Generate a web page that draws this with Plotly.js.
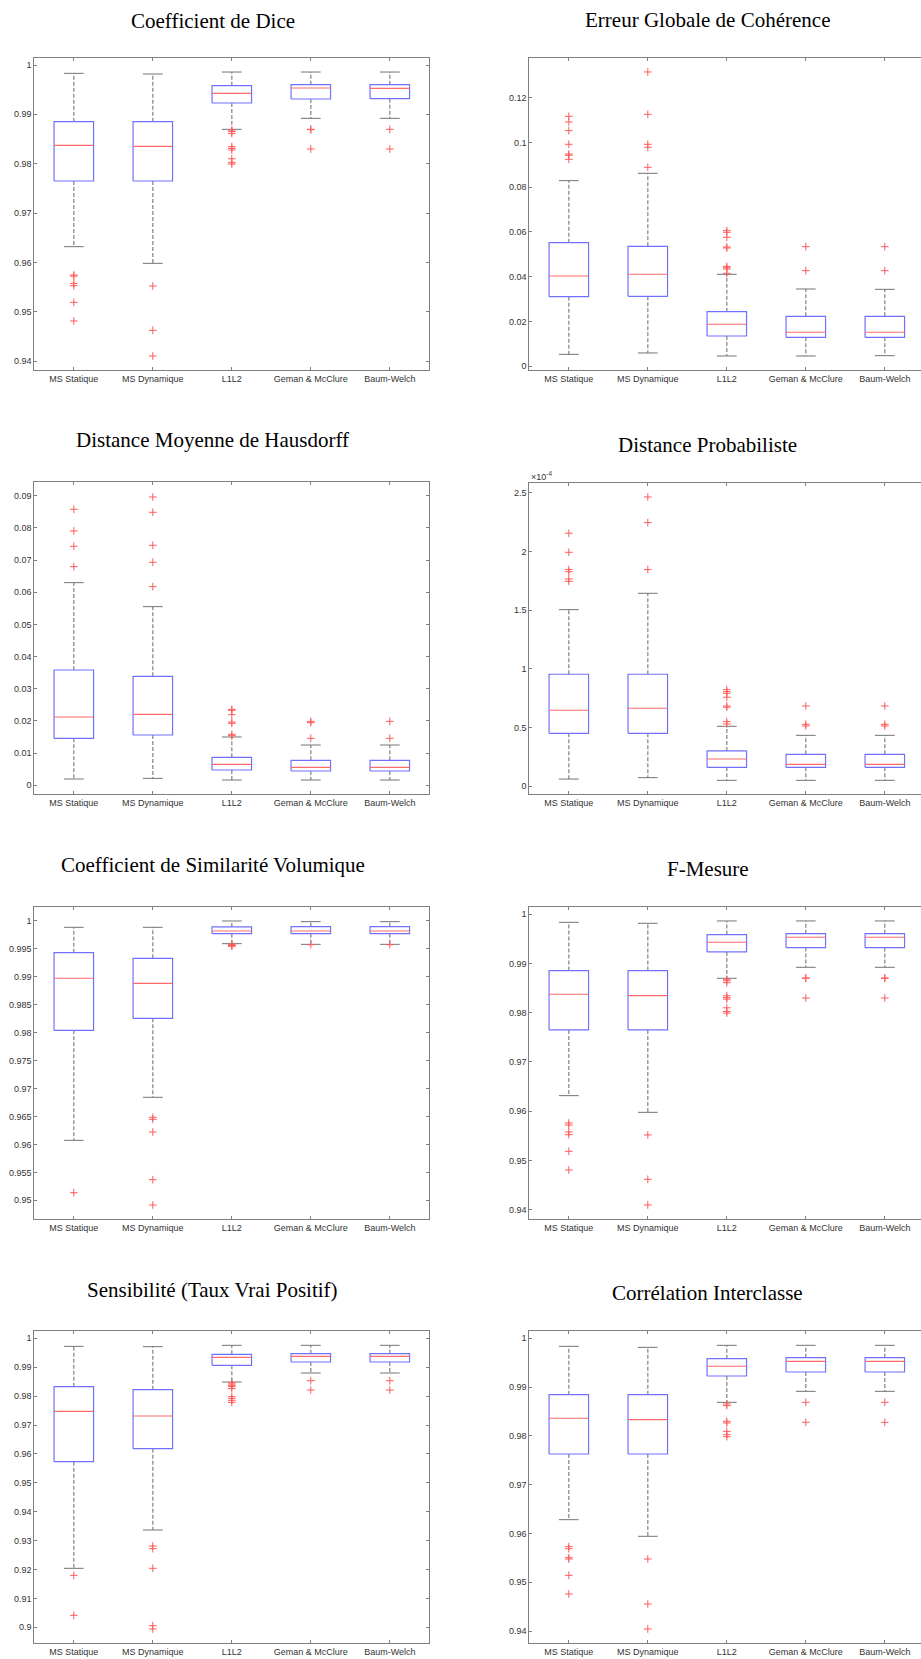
<!DOCTYPE html>
<html>
<head>
<meta charset="utf-8">
<script src="https://cdn.plot.ly/plotly-3.0.1.min.js"></script>
<style>
html,body{margin:0;padding:0;background:#fff;overflow:hidden;}
#chart{width:921px;height:1659px;}
</style>
</head>
<body>
<div id="chart"></div>
<script>
// ---------- DATA ----------
const categories = ['MS Statique', 'MS Dynamique', 'L1L2', 'Geman & McClure', 'Baum-Welch'];

// Coefficient de Dice
const diceUpper  = [0.99831, 0.99818, 0.99858, 0.99858, 0.99858];
const diceQ3     = [0.98851, 0.98851, 0.99581, 0.99601, 0.99601];
const diceMedian = [0.98372, 0.98351, 0.99426, 0.99534, 0.99527];
const diceQ1     = [0.97649, 0.97649, 0.99230, 0.99311, 0.99318];
const diceLower  = [0.96318, 0.95980, 0.98696, 0.98919, 0.98919];
const diceOutliers = [
  [0.95743, 0.95720, 0.95574, 0.95527, 0.95189, 0.94811],
  [0.95520, 0.94622, 0.94101],
  [0.98680, 0.98650, 0.98610, 0.98345, 0.98310, 0.98277, 0.98100, 0.98027, 0.97993],
  [0.98696, 0.98690, 0.98297],
  [0.98696, 0.98297]
];

// Erreur Globale de Cohérence
const egcUpper  = [0.08293, 0.08620, 0.04109, 0.03454, 0.03439];
const egcQ3     = [0.05524, 0.05360, 0.02442, 0.02233, 0.02233];
const egcMedian = [0.04035, 0.04109, 0.01876, 0.01519, 0.01519];
const egcQ1     = [0.03112, 0.03127, 0.01355, 0.01295, 0.01295];
const egcLower  = [0.00536, 0.00596, 0.00462, 0.00462, 0.00476];
const egcOutliers = [
  [0.11166, 0.10913, 0.10526, 0.09916, 0.09484, 0.09424, 0.09246],
  [0.13147, 0.11256, 0.09916, 0.09782, 0.08888],
  [0.06060, 0.05985, 0.05762, 0.05330, 0.05285, 0.04467, 0.04407, 0.04347, 0.04154],
  [0.05345, 0.04273],
  [0.05345, 0.04273]
];

// Distance Moyenne de Hausdorff
const hdUpper  = [0.06297, 0.05551, 0.01502, 0.01253, 0.01253];
const hdQ3     = [0.03583, 0.03387, 0.00870, 0.00777, 0.00777];
const hdMedian = [0.02123, 0.02206, 0.00652, 0.00559, 0.00559];
const hdQ1     = [0.01460, 0.01564, 0.00476, 0.00445, 0.00445];
const hdLower  = [0.00197, 0.00217, 0.00166, 0.00166, 0.00166];
const hdOutliers = [
  [0.08575, 0.07902, 0.07426, 0.06794],
  [0.08958, 0.08482, 0.07457, 0.06929, 0.06173],
  [0.02361, 0.02330, 0.02196, 0.01968, 0.01926, 0.01585, 0.01543],
  [0.01988, 0.01947, 0.01460],
  [0.01988, 0.01460]
];

// Distance Probabiliste (x 1e-4)
const dpUpper  = [1.504e-4, 1.643e-4, 0.511e-4, 0.434e-4, 0.434e-4];
const dpQ3     = [0.954e-4, 0.954e-4, 0.301e-4, 0.272e-4, 0.272e-4];
const dpMedian = [0.647e-4, 0.664e-4, 0.233e-4, 0.187e-4, 0.187e-4];
const dpQ1     = [0.451e-4, 0.451e-4, 0.162e-4, 0.162e-4, 0.162e-4];
const dpLower  = [0.062e-4, 0.074e-4, 0.051e-4, 0.051e-4, 0.051e-4];
const dpOutliers = [
  [2.154e-4, 1.992e-4, 1.845e-4, 1.827e-4, 1.765e-4, 1.745e-4],
  [2.463e-4, 2.245e-4, 1.845e-4],
  [0.823e-4, 0.806e-4, 0.792e-4, 0.758e-4, 0.684e-4, 0.673e-4, 0.551e-4, 0.531e-4],
  [0.684e-4, 0.528e-4, 0.514e-4],
  [0.684e-4, 0.528e-4, 0.514e-4]
];

// Coefficient de Similarité Volumique
const csvUpper  = [0.99887, 0.99887, 1.00000, 0.99988, 0.99988];
const csvQ3     = [0.99433, 0.99332, 0.99893, 0.99899, 0.99899];
const csvMedian = [0.98974, 0.98884, 0.99821, 0.99821, 0.99821];
const csvQ1     = [0.98043, 0.98258, 0.99773, 0.99773, 0.99773];
const csvLower  = [0.96074, 0.96844, 0.99594, 0.99582, 0.99582];
const csvOutliers = [
  [0.95137],
  [0.96486, 0.96450, 0.96223, 0.95370, 0.94916],
  [0.99582, 0.99570, 0.99560, 0.99547],
  [0.99575],
  [0.99575]
];

// F-Mesure
const fmUpper  = [0.99837, 0.99817, 0.99865, 0.99865, 0.99865];
const fmQ3     = [0.98856, 0.98856, 0.99587, 0.99607, 0.99607];
const fmMedian = [0.98375, 0.98348, 0.99431, 0.99533, 0.99533];
const fmQ1     = [0.97650, 0.97650, 0.99235, 0.99323, 0.99323];
const fmLower  = [0.96316, 0.95977, 0.98700, 0.98923, 0.98923];
const fmOutliers = [
  [0.95761, 0.95720, 0.95578, 0.95524, 0.95185, 0.94806],
  [0.95517, 0.94616, 0.94095],
  [0.98680, 0.98650, 0.98610, 0.98345, 0.98310, 0.98277, 0.98100, 0.98027, 0.97993],
  [0.98707, 0.98700, 0.98300],
  [0.98707, 0.98700, 0.98300]
];

// Sensibilité (Taux Vrai Positif)
const sensUpper  = [0.99723, 0.99712, 0.99758, 0.99758, 0.99758];
const sensQ3     = [0.98328, 0.98224, 0.99446, 0.99469, 0.99469];
const sensMedian = [0.97474, 0.97313, 0.99343, 0.99377, 0.99377];
const sensQ1     = [0.95732, 0.96182, 0.99066, 0.99181, 0.99181];
const sensLower  = [0.92042, 0.93368, 0.98489, 0.98800, 0.98800];
const sensOutliers = [
  [0.91799, 0.90415],
  [0.92814, 0.92722, 0.92042, 0.90058, 0.89942],
  [0.98466, 0.98420, 0.98374, 0.98328, 0.98258, 0.97982, 0.97924, 0.97855, 0.97785],
  [0.98535, 0.98212],
  [0.98535, 0.98212]
];

// Corrélation Interclasse
const ciUpper  = [0.99836, 0.99815, 0.99856, 0.99856, 0.99856];
const ciQ3     = [0.98845, 0.98845, 0.99583, 0.99604, 0.99604];
const ciMedian = [0.98360, 0.98333, 0.99426, 0.99528, 0.99528];
const ciQ1     = [0.97629, 0.97629, 0.99228, 0.99310, 0.99310];
const ciLower  = [0.96282, 0.95941, 0.98688, 0.98913, 0.98913];
const ciOutliers = [
  [0.95729, 0.95688, 0.95503, 0.95476, 0.95141, 0.94758],
  [0.95476, 0.94553, 0.94041],
  [0.98654, 0.98620, 0.98298, 0.98264, 0.98093, 0.98025, 0.97984],
  [0.98688, 0.98278],
  [0.98688, 0.98278]
];

// Titles and y tick labels
const titles = [
  'Coefficient de Dice', 'Erreur Globale de Cohérence',
  'Distance Moyenne de Hausdorff', 'Distance Probabiliste',
  'Coefficient de Similarité Volumique', 'F-Mesure',
  'Sensibilité (Taux Vrai Positif)', 'Corrélation Interclasse'
];
const ticks094 = [0.94, 0.95, 0.96, 0.97, 0.98, 0.99, 1];
const ticks094Text = ['0.94', '0.95', '0.96', '0.97', '0.98', '0.99', '1'];
const ticksEgc = [0, 0.02, 0.04, 0.06, 0.08, 0.1, 0.12];
const ticksEgcText = ['0', '0.02', '0.04', '0.06', '0.08', '0.1', '0.12'];
const ticksHd = [0, 0.01, 0.02, 0.03, 0.04, 0.05, 0.06, 0.07, 0.08, 0.09];
const ticksHdText = ['0', '0.01', '0.02', '0.03', '0.04', '0.05', '0.06', '0.07', '0.08', '0.09'];
const ticksDp = [0, 0.5e-4, 1e-4, 1.5e-4, 2e-4, 2.5e-4];
const ticksDpText = ['0', '0.5', '1', '1.5', '2', '2.5'];
const ticksCsv = [0.95, 0.955, 0.96, 0.965, 0.97, 0.975, 0.98, 0.985, 0.99, 0.995, 1];
const ticksCsvText = ['0.95', '0.955', '0.96', '0.965', '0.97', '0.975', '0.98', '0.985', '0.99', '0.995', '1'];
const ticksSens = [0.9, 0.91, 0.92, 0.93, 0.94, 0.95, 0.96, 0.97, 0.98, 0.99, 1];
const ticksSensText = ['0.9', '0.91', '0.92', '0.93', '0.94', '0.95', '0.96', '0.97', '0.98', '0.99', '1'];

// ---------- PANEL TABLE (built from arrays above) ----------
const W = 921, H = 1659;
const panels = [
  {up: diceUpper, q3: diceQ3, med: diceMedian, q1: diceQ1, lo: diceLower, out: diceOutliers,
   tv: ticks094, tt: ticks094Text, yr: [0.93818, 1.00136], col: 0, top: 58.3, bot: 370, ty: 21},
  {up: egcUpper, q3: egcQ3, med: egcMedian, q1: egcQ1, lo: egcLower, out: egcOutliers,
   tv: ticksEgc, tt: ticksEgcText, yr: [-0.00164, 0.13757], col: 1, top: 58.3, bot: 370, ty: 20},
  {up: hdUpper, q3: hdQ3, med: hdMedian, q1: hdQ1, lo: hdLower, out: hdOutliers,
   tv: ticksHd, tt: ticksHdText, yr: [-0.00269, 0.09414], col: 0, top: 482.3, bot: 794, ty: 440},
  {up: dpUpper, q3: dpQ3, med: dpMedian, q1: dpQ1, lo: dpLower, out: dpOutliers,
   tv: ticksDp, tt: ticksDpText, yr: [-0.0653e-4, 2.582e-4], col: 1, top: 483, bot: 794, ty: 445},
  {up: csvUpper, q3: csvQ3, med: csvMedian, q1: csvQ1, lo: csvLower, out: csvOutliers,
   tv: ticksCsv, tt: ticksCsvText, yr: [0.94666, 1.00245], col: 0, top: 907.3, bot: 1219, ty: 865},
  {up: fmUpper, q3: fmQ3, med: fmMedian, q1: fmQ1, lo: fmLower, out: fmOutliers,
   tv: ticks094, tt: ticks094Text, yr: [0.9381, 1.00142], col: 1, top: 907.3, bot: 1219, ty: 869},
  {up: sensUpper, q3: sensQ3, med: sensMedian, q1: sensQ1, lo: sensLower, out: sensOutliers,
   tv: ticksSens, tt: ticksSensText, yr: [0.89458, 1.00254], col: 0, top: 1331, bot: 1643, ty: 1290},
  {up: ciUpper, q3: ciQ3, med: ciMedian, q1: ciQ1, lo: ciLower, out: ciOutliers,
   tv: ticks094, tt: ticks094Text, yr: [0.93754, 1.0015], col: 1, top: 1331, bot: 1643, ty: 1293}
];

const BOX_HALF = 0.25, CAP_HALF = 0.125;
const AXIS_COLOR = '#7f7f7f';
const tickFont = {family: 'Liberation Sans, Arial, sans-serif', size: 9, color: '#333333'};

const traces = [];
const layout = {
  width: W, height: H,
  margin: {l: 0, r: 0, t: 0, b: 0},
  paper_bgcolor: '#ffffff', plot_bgcolor: '#ffffff',
  showlegend: false,
  annotations: [],
  font: tickFont
};

panels.forEach((p, k) => {
  const n = k + 1;
  const xa = 'x' + (n === 1 ? '' : n);
  const ya = 'y' + (n === 1 ? '' : n);

  const wx = [], wy = [], cx = [], cy = [], bx = [], by = [], mx = [], my = [], ox = [], oy = [];
  categories.forEach((c, i) => {
    const x = i + 1;
    wx.push(x, x, null, x, x, null);
    wy.push(p.q3[i], p.up[i], null, p.q1[i], p.lo[i], null);
    cx.push(x - CAP_HALF, x + CAP_HALF, null, x - CAP_HALF, x + CAP_HALF, null);
    cy.push(p.up[i], p.up[i], null, p.lo[i], p.lo[i], null);
    bx.push(x - BOX_HALF, x + BOX_HALF, x + BOX_HALF, x - BOX_HALF, x - BOX_HALF, null);
    by.push(p.q1[i], p.q1[i], p.q3[i], p.q3[i], p.q1[i], null);
    mx.push(x - BOX_HALF, x + BOX_HALF, null);
    my.push(p.med[i], p.med[i], null);
    p.out[i].forEach(v => { ox.push(x); oy.push(v); });
  });

  traces.push({type: 'scatter', mode: 'lines', x: wx, y: wy, xaxis: xa, yaxis: ya,
    line: {color: '#939393', width: 1.4, dash: '4px,2px'}, hoverinfo: 'skip'});
  traces.push({type: 'scatter', mode: 'lines', x: cx, y: cy, xaxis: xa, yaxis: ya,
    line: {color: '#747474', width: 1}, hoverinfo: 'skip'});
  traces.push({type: 'scatter', mode: 'lines', x: bx, y: by, xaxis: xa, yaxis: ya,
    line: {color: '#7070ff', width: 1.2}, hoverinfo: 'skip'});
  traces.push({type: 'scatter', mode: 'lines', x: mx, y: my, xaxis: xa, yaxis: ya,
    line: {color: '#ff6a6a', width: 1.1}, hoverinfo: 'skip'});
  traces.push({type: 'scatter', mode: 'markers', x: ox, y: oy, xaxis: xa, yaxis: ya,
    marker: {symbol: 'cross-thin', size: 5.5, line: {color: '#ff5c5c', width: 1}}, hoverinfo: 'skip'});

  const left = p.col === 0 ? 34.3 : 529.3;
  const right = p.col === 0 ? 429.3 : W;
  const unit = 79;
  const xr = [0.5, 0.5 + (right - left) / unit];

  layout['xaxis' + (n === 1 ? '' : n)] = {
    domain: [left / W, right / W], range: xr, anchor: ya,
    tickvals: [1, 2, 3, 4, 5], ticktext: categories,
    ticks: 'inside', ticklen: 3, tickcolor: AXIS_COLOR, tickwidth: 1,
    showline: true, linecolor: AXIS_COLOR, linewidth: 1, mirror: 'ticks',
    showgrid: false, zeroline: false, tickfont: tickFont, fixedrange: true
  };
  layout['yaxis' + (n === 1 ? '' : n)] = {
    domain: [1 - p.bot / H, 1 - p.top / H], range: p.yr, anchor: xa,
    tickvals: p.tv, ticktext: p.tt,
    ticks: 'inside', ticklen: 3, tickcolor: AXIS_COLOR, tickwidth: 1,
    showline: true, linecolor: AXIS_COLOR, linewidth: 1, mirror: p.col === 0 ? 'ticks' : false,
    showgrid: false, zeroline: false, tickfont: tickFont, fixedrange: true
  };

  layout.annotations.push({
    xref: 'paper', yref: 'paper', x: (p.col === 0 ? 212.7 : 707.7) / W, y: 1 - p.ty / H,
    xanchor: 'center', yanchor: 'middle', showarrow: false, text: titles[k],
    font: {family: 'Liberation Serif, Times New Roman, serif', size: 21, color: '#000000'}
  });
});

// exponent label for Distance Probabiliste
layout.annotations.push({
  xref: 'paper', yref: 'paper', x: 529 / W, y: 1 - 476 / H,
  xanchor: 'left', yanchor: 'middle', showarrow: false,
  text: '×10<sup>-4</sup>', font: {family: 'Liberation Sans, Arial, sans-serif', size: 9, color: '#333333'}
});

Plotly.newPlot('chart', traces, layout, {staticPlot: true, displayModeBar: false});
</script>
</body>
</html>
